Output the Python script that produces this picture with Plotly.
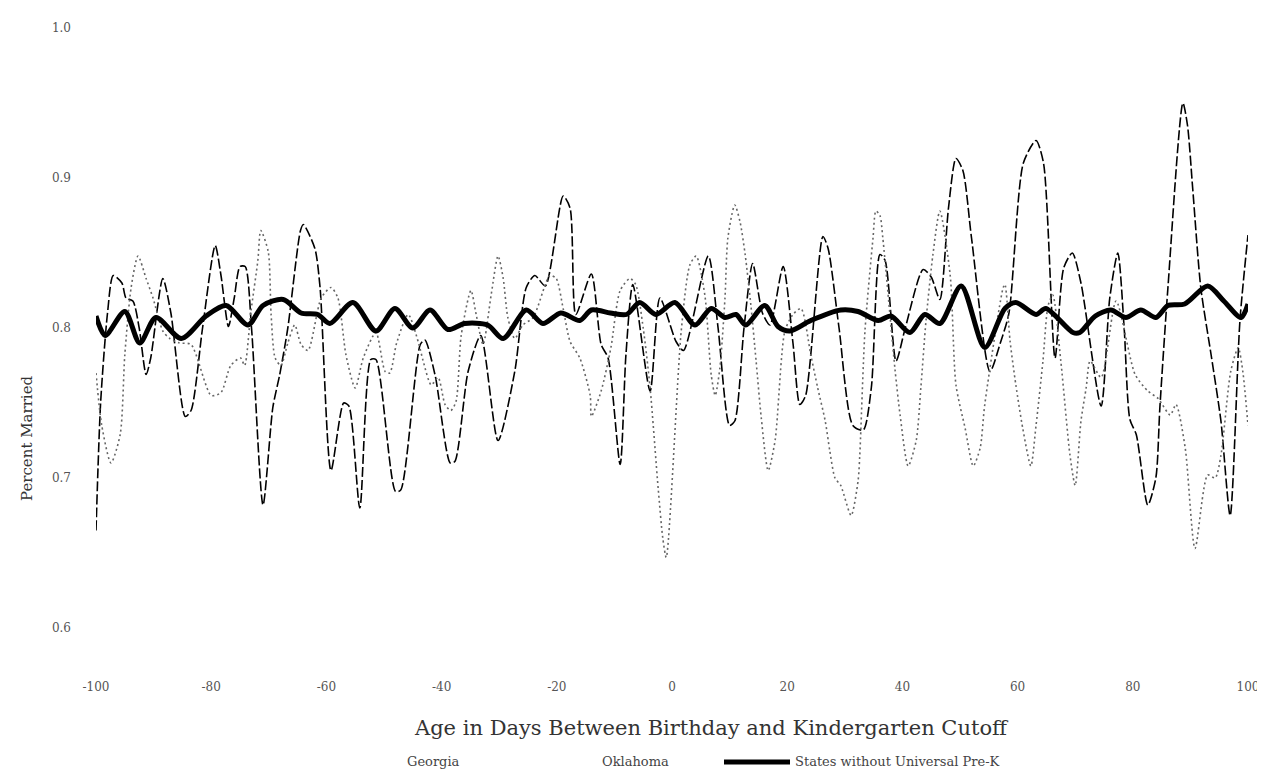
import plotly.graph_objects as go

# ---------------- data ----------------
georgia_days = [-100, -99.2, -98, -97, -95.5, -94.8, -93.6, -92.5, -91.3, -90.5, -88.4, -87, -84.5, -83.5,
                -81.5, -79.3, -78.3, -77, -76, -75, -74.1, -73, -71, -69.3, -68.1, -66.7, -64.5, -64, -62,
                -61.1, -59.2, -57, -56.1, -54.2, -52.3, -51.4, -48, -47.1, -43.7, -42.9, -41.1, -38.5,
                -37.7, -35.4, -33.2, -30.2, -27.3, -25.3, -23.8, -22, -18.9, -17.7, -16.7, -14, -12.3,
                -11.1, -9, -8, -6.8, -3.8, -2.1, 0.7, 2, 6.3, 8, 10, 10.9, 12.5, 14, 15.7, 17, 19.3, 21,
                22.2, 23.2, 26.2, 27.1, 29, 31.4, 33.2, 34.6, 36.1, 37, 38.9, 40.5, 43.6, 45, 46.5, 48,
                49.3, 50.5, 52, 55.2, 57, 58.5, 61, 63.2, 64.5, 66.5, 68, 69.5, 71, 74.5, 76, 77.4, 78.5,
                79.5, 80.6, 82.6, 84, 84.7, 86.1, 88.7, 89.5, 90.4, 91.8, 93.6, 95.3, 96.9, 98.6, 100]
georgia_vals = [0.665, 0.75, 0.81, 0.835, 0.83, 0.82, 0.818, 0.80, 0.769, 0.78, 0.833, 0.81, 0.741, 0.745,
                0.80, 0.855, 0.835, 0.801, 0.82, 0.841, 0.841, 0.80, 0.682, 0.747, 0.769, 0.80, 0.865, 0.869,
                0.853, 0.827, 0.705, 0.75, 0.748, 0.68, 0.779, 0.779, 0.691, 0.692, 0.789, 0.792, 0.768,
                0.71, 0.711, 0.771, 0.795, 0.725, 0.771, 0.827, 0.835, 0.828, 0.888, 0.88, 0.809, 0.836,
                0.789, 0.78, 0.709, 0.782, 0.829, 0.758, 0.82, 0.791, 0.785, 0.848, 0.80, 0.735, 0.738,
                0.80, 0.843, 0.81, 0.802, 0.841, 0.79, 0.749, 0.755, 0.861, 0.853, 0.80, 0.735, 0.732,
                0.76, 0.849, 0.845, 0.778, 0.80, 0.839, 0.834, 0.819, 0.88, 0.913, 0.905, 0.86, 0.771,
                0.79, 0.81, 0.91, 0.925, 0.91, 0.78, 0.84, 0.85, 0.83, 0.748, 0.82, 0.85, 0.80, 0.739,
                0.729, 0.682, 0.70, 0.747, 0.827, 0.95, 0.935, 0.893, 0.827, 0.782, 0.738, 0.675, 0.805,
                0.862]

oklahoma_days = [-100, -99, -97.4, -95.8, -95, -93.9, -92.7, -91.3, -90.1, -88.4, -87.2, -85.5, -83.5, -80,
                 -78.3, -76.6, -74.9, -74.2, -73.1, -71.9, -71.4, -70.1, -69.6, -68.9, -67.9, -66.7, -65.5,
                 -64.4, -63.2, -60.9, -59.2, -58, -56.6, -55, -53.6, -51.4, -49.8, -49, -47.8, -45.8, -44,
                 -43.2, -41.8, -40.6, -39.4, -38.4, -37.5, -36.6, -34.9, -34, -32.8, -31.4, -30.2, -29.3,
                 -28.5, -27.3, -25.9, -24.1, -21.2, -20.1, -18.9, -17.7, -16, -14.2, -14, -12.3, -10.6, -9,
                 -7.3, -6.3, -5, -3.8, -2.4, -1.6, -1, 1.6, 3.1, 4.2, 5.7, 6.8, 7.5, 8.3, 9.2, 9.7, 10.9,
                 11.8, 12.7, 13.7, 14.6, 15.5, 16.7, 17.9, 19.6, 21, 22.4, 24.1, 25.3, 26.6, 27.4, 28.3,
                 29.3, 31.1, 32.3, 32.6, 33.5, 34.9, 35.4, 36.1, 36.6, 38.7, 39.6, 41, 42.4, 43.2, 44.1,
                 45.3, 46.5, 48.3, 49.3, 50.9, 52.3, 53.5, 54.3, 57.5, 57.8, 58.7, 59.7, 60.9, 62.3, 63.2,
                 64.4, 65.3, 66.1, 67.5, 69.1, 70, 71, 71.9, 72.6, 74.5, 77.1, 80.4, 82.6, 84.4, 86.5, 87.5,
                 89.1, 90.8, 93, 94.3, 95.3, 97, 98.3, 99.1, 100]
oklahoma_vals = [0.77, 0.735, 0.71, 0.729, 0.782, 0.827, 0.848, 0.833, 0.82, 0.798, 0.793, 0.79, 0.789,
                 0.755, 0.757, 0.775, 0.78, 0.775, 0.811, 0.845, 0.865, 0.851, 0.809, 0.78, 0.775, 0.79,
                 0.802, 0.789, 0.785, 0.82, 0.827, 0.82, 0.782, 0.76, 0.78, 0.797, 0.771, 0.77, 0.79, 0.809,
                 0.79, 0.778, 0.762, 0.767, 0.749, 0.745, 0.751, 0.795, 0.825, 0.809, 0.789, 0.822, 0.848,
                 0.833, 0.807, 0.793, 0.802, 0.807, 0.835, 0.833, 0.813, 0.791, 0.78, 0.755, 0.741, 0.758,
                 0.787, 0.825, 0.833, 0.829, 0.80, 0.76, 0.693, 0.66, 0.647, 0.798, 0.842, 0.848, 0.822,
                 0.769, 0.755, 0.773, 0.82, 0.86, 0.882, 0.871, 0.849, 0.815, 0.778, 0.74, 0.705, 0.725,
                 0.798, 0.809, 0.813, 0.782, 0.76, 0.738, 0.718, 0.70, 0.695, 0.675, 0.698, 0.715, 0.798,
                 0.86, 0.878, 0.875, 0.86, 0.773, 0.742, 0.708, 0.725, 0.76, 0.805, 0.849, 0.878, 0.835,
                 0.762, 0.733, 0.708, 0.72, 0.749, 0.827, 0.829, 0.791, 0.762, 0.733, 0.708, 0.735, 0.778,
                 0.815, 0.822, 0.778, 0.715, 0.695, 0.738, 0.76, 0.778, 0.767, 0.818, 0.769, 0.758, 0.753,
                 0.742, 0.749, 0.72, 0.653, 0.702, 0.70, 0.715, 0.771, 0.787, 0.771, 0.735]

states_days = [-100, -98.4, -95, -92.4, -89.6, -85.2, -80.9, -77.4, -73.6, -71, -67.5, -64.4, -61.5, -59.4,
               -55.4, -51.4, -48.1, -45, -42, -38.9, -36, -32, -29.3, -25.3, -22.4, -19.3, -16, -14, -10.7,
               -7.9, -5.6, -2.8, 0.5, 4, 6.8, 9.2, 11.1, 12.8, 16.1, 18.4, 20.5, 24.1, 29.3, 32.3, 35.8,
               38, 41.3, 43.9, 46.5, 50.2, 54.3, 57.8, 59.7, 63.2, 64.9, 69.6, 70.8, 73.5, 76.2, 78.8, 81.4,
               84, 86.1, 89, 93, 95.8, 98.8, 100]
states_vals = [0.808, 0.795, 0.811, 0.79, 0.807, 0.793, 0.808, 0.815, 0.802, 0.815, 0.819, 0.81, 0.809,
               0.803, 0.817, 0.798, 0.813, 0.80, 0.812, 0.799, 0.803, 0.802, 0.793, 0.812, 0.803, 0.81,
               0.805, 0.812, 0.81, 0.809, 0.817, 0.809, 0.817, 0.802, 0.813, 0.807, 0.809, 0.802, 0.815,
               0.801, 0.798, 0.805, 0.812, 0.811, 0.805, 0.808, 0.797, 0.809, 0.803, 0.828, 0.787, 0.813,
               0.817, 0.809, 0.813, 0.797, 0.797, 0.808, 0.812, 0.807, 0.812, 0.807, 0.815, 0.816, 0.828,
               0.818, 0.807, 0.816]

series_names = ["Georgia", "Oklahoma", "States without Universal Pre-K"]
x_ticks = [-100, -80, -60, -40, -20, 0, 20, 40, 60, 80, 100]
y_ticks = [0.6, 0.7, 0.8, 0.9, 1.0]
x_title = "Age in Days Between Birthday and Kindergarten Cutoff"
y_title = "Percent Married"

# ---------------- layout constants ----------------
W, H = 1265, 771
L, R, T, B = 88, 25, 20, 151
PW = W - L - R
PH = H - T - B
FONT = "DejaVu Serif"


def px_x(p):
    return (p - L) / PW


def px_y(p):
    return (H - B - p) / PH


fig = go.Figure()
fig.add_trace(go.Scatter(x=georgia_days, y=georgia_vals, mode="lines", name=series_names[0],
                         line=dict(color="black", width=1.6, dash="10px,3px", shape="spline", smoothing=0.7),
                         showlegend=False))
fig.add_trace(go.Scatter(x=oklahoma_days, y=oklahoma_vals, mode="lines", name=series_names[1],
                         line=dict(color="#666666", width=1.6, dash="2px,3px", shape="spline", smoothing=0.7),
                         showlegend=False))
fig.add_trace(go.Scatter(x=states_days, y=states_vals, mode="lines", name=series_names[2],
                         line=dict(color="black", width=5, shape="spline", smoothing=0.8),
                         showlegend=False))

annotations = [
    dict(text=x_title, xref="paper", yref="paper", x=px_x(703), y=px_y(720), showarrow=False,
         font=dict(family=FONT, size=21, color="#333333"), xanchor="center", yanchor="middle"),
    dict(text=y_title, xref="paper", yref="paper", x=px_x(19), y=px_y(430), showarrow=False, textangle=-90,
         font=dict(family=FONT, size=15, color="#333333"), xanchor="center", yanchor="middle"),
    dict(text=series_names[0], xref="paper", yref="paper", x=px_x(425), y=px_y(753), showarrow=False,
         font=dict(family=FONT, size=13, color="#444444"), xanchor="center", yanchor="middle"),
    dict(text=series_names[1], xref="paper", yref="paper", x=px_x(627), y=px_y(753), showarrow=False,
         font=dict(family=FONT, size=13, color="#444444"), xanchor="center", yanchor="middle"),
    dict(text=series_names[2], xref="paper", yref="paper", x=px_x(785), y=px_y(753), showarrow=False,
         font=dict(family=FONT, size=13, color="#444444"), xanchor="left", yanchor="middle"),
]

shapes = [dict(type="line", xref="paper", yref="paper", x0=px_x(716), x1=px_x(782), y0=px_y(754),
               y1=px_y(754), line=dict(color="black", width=5))]

fig.update_layout(
    width=W, height=H,
    margin=dict(l=L, r=R, t=T, b=B),
    paper_bgcolor="white", plot_bgcolor="white",
    showlegend=False,
    annotations=annotations,
    shapes=shapes,
    xaxis=dict(range=[-100, 100], tickvals=x_ticks, ticktext=[str(v) for v in x_ticks],
               showgrid=False, zeroline=False, showline=False, ticks="",
               ticklabelstandoff=50,
               tickfont=dict(family=FONT, size=12, color="#555555")),
    yaxis=dict(range=[0.6, 1.0], tickvals=y_ticks, ticktext=[f"{v:.1f}" for v in y_ticks],
               showgrid=False, zeroline=False, showline=False, ticks="",
               ticklabelstandoff=24,
               tickfont=dict(family=FONT, size=12, color="#555555")),
)

fig.write_html("out.html")
